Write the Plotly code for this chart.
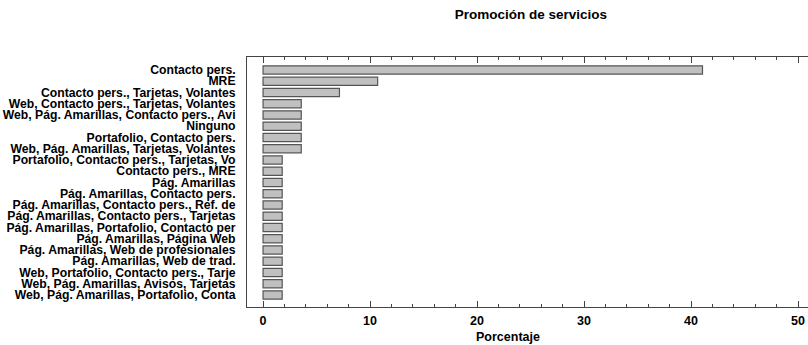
import plotly.graph_objects as go

categories = [
    "Contacto pers.",
    "MRE",
    "Contacto pers., Tarjetas, Volantes",
    "Web, Contacto pers., Tarjetas, Volantes",
    "Web, Pág. Amarillas, Contacto pers., Avi",
    "Ninguno",
    "Portafolio, Contacto pers.",
    "Web, Pág. Amarillas, Tarjetas, Volantes",
    "Portafolio, Contacto pers., Tarjetas, Vo",
    "Contacto pers., MRE",
    "Pág. Amarillas",
    "Pág. Amarillas, Contacto pers.",
    "Pág. Amarillas, Contacto pers., Ref. de",
    "Pág. Amarillas, Contacto pers., Tarjetas",
    "Pág. Amarillas, Portafolio, Contacto per",
    "Pág. Amarillas, Página Web",
    "Pág. Amarillas, Web de profesionales",
    "Pág. Amarillas, Web de trad.",
    "Web, Portafolio, Contacto pers., Tarje",
    "Web, Pág. Amarillas, Avisos, Tarjetas",
    "Web, Pág. Amarillas, Portafolio, Conta",
]
percentages = [41.07, 10.71, 7.14, 3.57, 3.57, 3.57, 3.57, 3.57,
               1.79, 1.79, 1.79, 1.79, 1.79, 1.79, 1.79, 1.79,
               1.79, 1.79, 1.79, 1.79, 1.79]
x_ticks = [0, 10, 20, 30, 40, 50]

FONT = "Liberation Sans, Arial, sans-serif"

fig = go.Figure(go.Bar(
    x=percentages, y=categories, orientation="h",
    marker=dict(color="#c0c0c0", line=dict(color="#555555", width=1.2)),
    width=0.74,
))

n = len(categories)
fig.update_layout(
    width=808, height=345,
    margin=dict(l=247, r=0, t=57, b=38),
    paper_bgcolor="white", plot_bgcolor="white",
    showlegend=False,
    font=dict(family=FONT, color="black"),
    title=dict(text="<b>Promoción de servicios</b>", x=0.657, xanchor="center",
               y=0.96, yanchor="middle", font=dict(size=13.5, family=FONT)),
    bargap=0.26,
    annotations=[dict(text="<b>Porcentaje</b>", xref="paper", yref="paper",
                      x=0.4652, y=-0.12, xanchor="center", yanchor="middle",
                      showarrow=False, font=dict(size=12.5, family=FONT))],
)
fig.update_xaxes(
    range=[-1.5, 50.93], tickvals=x_ticks,
    ticktext=[f"<b>{v}</b>" for v in x_ticks],
    ticks="inside", ticklen=6, tickwidth=1, tickcolor="#444",
    minor=dict(dtick=2, ticks="inside", ticklen=3, tickcolor="#444", tickwidth=1),
    showline=True, linecolor="#444", linewidth=1, mirror="allticks",
    showgrid=False, zeroline=False, automargin=False,
    tickfont=dict(size=12.5, family=FONT),
    ticklabelstandoff=2,
)
fig.update_yaxes(
    type="category", categoryorder="array", categoryarray=categories,
    range=[n - 1 + 1.07, -1.15],
    showline=True, linecolor="#444", linewidth=1,
    showgrid=False, zeroline=False, ticks="", automargin=False,
    ticktext=[f"<b>{c}</b>" for c in categories], tickvals=categories,
    tickfont=dict(size=12.2, family=FONT),
    ticklabelstandoff=8,
)
fig.write_html("out.html", config={"displayModeBar": False},
               post_script="document.body.style.margin='0';")
